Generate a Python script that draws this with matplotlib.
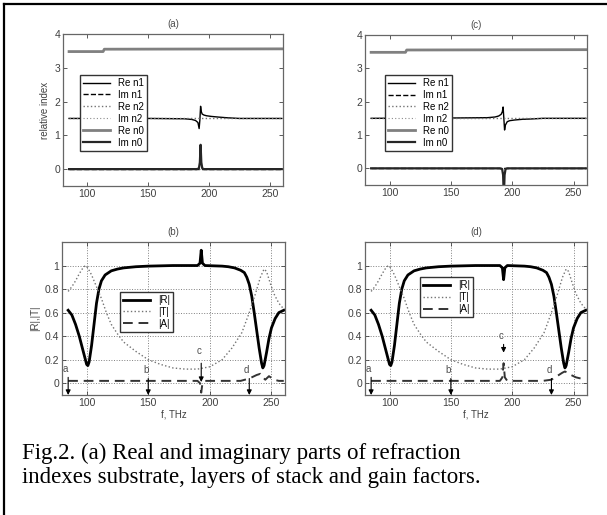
import matplotlib
matplotlib.use('Agg')
import matplotlib.pyplot as plt
from matplotlib.lines import Line2D

# ---- panel (a)/(c): refraction indexes ----
f_re0 = [85, 113, 114, 260]
re_n0 = [3.48, 3.48, 3.55, 3.56]

f_n1 = [85, 150, 180, 186, 189, 191, 192, 192.6, 193.2, 193.8, 194.5, 196, 198, 202, 208, 215, 225, 260]
re_n1_a = [1.5, 1.5, 1.49, 1.47, 1.44, 1.38, 1.2, 1.45, 1.86, 1.7, 1.63, 1.6, 1.58, 1.56, 1.54, 1.52, 1.5, 1.5]
re_n1_c = [1.5, 1.51, 1.52, 1.54, 1.57, 1.62, 1.7, 1.84, 1.5, 1.15, 1.3, 1.4, 1.43, 1.45, 1.47, 1.48, 1.5, 1.5]

f_flat = [85, 260]
re_n2 = [1.5, 1.5]
im_n1 = [0, 0]
im_n2 = [0, 0]

f_im0 = [85, 190, 191.8, 192.6, 193.2, 193.8, 194.6, 196, 260]
im_n0_a = [0, 0, 0.02, 0.2, 0.72, 0.2, 0.02, 0, 0]
im_n0_c = [0, 0, -0.02, -0.2, -0.9, -0.2, -0.02, 0, 0]

# ---- panel (b)/(d): |R|, |T|, |A| ----
f_R = [85, 88, 91, 94, 97, 99, 100, 101, 102, 104, 106, 108, 110, 112, 115, 120, 125, 130, 140, 150,
       170, 190, 192, 193, 194, 196, 210, 215, 220, 225, 228, 230, 232, 234, 236, 238, 240, 242, 243, 244,
       246, 248, 250, 253, 256, 260]
r_b = [0.62, 0.58, 0.5, 0.4, 0.28, 0.2, 0.16, 0.15, 0.18, 0.32, 0.5, 0.68, 0.8, 0.87, 0.92, 0.955, 0.97, 0.98, 0.99, 0.995,
       1.0, 1.0, 1.02, 1.13, 1.02, 1.0, 0.995, 0.99, 0.98, 0.96, 0.94, 0.9, 0.84, 0.74, 0.6, 0.45, 0.3, 0.17, 0.13, 0.15,
       0.26, 0.38, 0.47, 0.55, 0.6, 0.62]
r_d = [0.62, 0.58, 0.5, 0.4, 0.28, 0.2, 0.16, 0.15, 0.18, 0.32, 0.5, 0.68, 0.8, 0.87, 0.92, 0.955, 0.97, 0.98, 0.99, 0.995,
       1.0, 1.0, 0.98, 0.88, 0.98, 1.0, 0.995, 0.99, 0.98, 0.96, 0.94, 0.9, 0.84, 0.74, 0.6, 0.45, 0.3, 0.17, 0.13, 0.15,
       0.26, 0.38, 0.47, 0.55, 0.6, 0.62]

f_T = [85, 88, 91, 94, 97, 99, 101, 104, 108, 112, 116, 120, 125, 130, 140, 150, 160, 170, 180, 190, 200,
       210, 218, 226, 232, 237, 241, 244, 246, 249, 252, 256, 260]
t_bd = [0.78, 0.82, 0.87, 0.93, 0.98, 1.0, 0.98, 0.92, 0.82, 0.72, 0.6, 0.5, 0.42, 0.35, 0.27, 0.2, 0.16, 0.13, 0.12, 0.12, 0.14,
        0.2, 0.3, 0.43, 0.6, 0.76, 0.9, 0.97, 0.95, 0.85, 0.76, 0.68, 0.63]

f_A = [85, 190, 192, 193, 194, 196, 225, 232, 238, 241, 243, 245, 248, 252, 256, 260]
a_b = [0.02, 0.02, 0.0, -0.08, 0.0, 0.02, 0.02, 0.04, 0.07, 0.08, 0.05, 0.03, 0.06, 0.03, 0.02, 0.02]
a_d = [0.02, 0.02, 0.05, 0.17, 0.05, 0.02, 0.02, 0.03, 0.07, 0.09, 0.1, 0.09, 0.07, 0.05, 0.04, 0.03]

arrow_f = [85, 150, 193, 232]
arrow_lbl = ['a', 'b', 'c', 'd']
# arrow (start, end, label y) per panel
arrows_b = [(0.05, -0.1, 0.08), (0.04, -0.1, 0.07), (0.17, 0.01, 0.23), (0.04, -0.1, 0.07)]
arrows_d = [(0.05, -0.1, 0.08), (0.04, -0.1, 0.07), (0.33, 0.26, 0.36), (0.04, -0.1, 0.07)]

caption = ["Fig.2. (a) Real and imaginary parts of refraction",
           "indexes substrate, layers of stack and gain factors."]

plt.rcParams['font.family'] = ['Liberation Sans', 'DejaVu Sans']
W, H = 607, 515
fig = plt.figure(figsize=(W / 100, H / 100), dpi=100)


def px_axes(l, t, r, b):
    return fig.add_axes([l / W, 1 - b / H, (r - l) / W, (b - t) / H])


def style(ax, title):
    ax.set_xlim(80, 261)
    ax.set_xticks([100, 150, 200, 250])
    ax.tick_params(direction='in', length=3, width=0.6, labelsize=7.5, colors='0.25', pad=2,
                   top=True, right=True)
    for s in ax.spines.values():
        s.set_color('0.4')
        s.set_linewidth(0.9)
    ax.set_title(title, fontsize=7, color='0.3', pad=5)


leg_kw = dict(fontsize=7, frameon=True, fancybox=False, edgecolor='0.2', framealpha=1,
              borderpad=0.3, labelspacing=0.2, handlelength=2.8, handletextpad=0.8, borderaxespad=0)

# (a) and (c)
for (l, t, r, b), title, re1, im0, ylab, lpos in [
        ((63, 34, 283, 186), '(a)', re_n1_a, im_n0_a, 'relative index', (0.077, 0.73)),
        ((365, 35, 587, 185), '(c)', re_n1_c, im_n0_c, None, (0.09, 0.733))]:
    ax = px_axes(l, t, r, b)
    ax.plot(f_n1, re1, color='black', lw=1.0, label='Re n1')
    ax.plot(f_flat, im_n1, color='black', lw=1.0, ls='--', label='Im n1')
    ax.plot(f_flat, re_n2, color='0.45', lw=1.0, ls=':', label='Re n2')
    ax.plot(f_flat, im_n2, color='0.55', lw=0.8, ls=(0, (1, 2)), label='Im n2')
    ax.plot(f_re0, re_n0, color='0.5', lw=2.0, label='Re n0')
    ax.plot(f_im0, im0, color='0.15', lw=1.6, label='Im n0')
    ax.set_ylim(-0.5, 4)
    ax.set_yticks([0, 1, 2, 3, 4])
    style(ax, title)
    if ylab:
        ax.set_ylabel(ylab, fontsize=7, color='0.25', labelpad=3)
    ax.legend(loc='upper left', bbox_to_anchor=lpos, **leg_kw)

# (b) and (d)
for (l, t, r, b), title, rr, aa, arrs, ylab, lpos in [
        ((62, 242, 285, 395), '(b)', r_b, a_b, arrows_b, '|R|,|T|', (0.26, 0.673)),
        ((365, 242, 587, 395), '(d)', r_d, a_d, arrows_d, None, (0.248, 0.77))]:
    ax = px_axes(l, t, r, b)
    ax.grid(True, color='0.5', ls=':', lw=0.7)
    ax.plot(f_R, rr, color='black', lw=2.0, label='|R|')
    ax.plot(f_T, t_bd, color='0.45', lw=1.0, ls=':', label='|T|')
    ax.plot(f_A, aa, color='0.2', lw=1.4, ls=(0, (5, 3)), label='|A|')
    ax.set_ylim(-0.1, 1.2)
    ax.set_yticks([0, 0.2, 0.4, 0.6, 0.8, 1])
    ax.set_yticklabels(['0', '0.2', '0.4', '0.6', '0.8', '1'])
    style(ax, title)
    ax.set_xlabel('f, THz', fontsize=7, color='0.25', labelpad=1)
    if ylab:
        ax.set_ylabel(ylab, fontsize=7, color='0.25', labelpad=3)
    for fx, lbl, (y0, y1, ly) in zip(arrow_f, arrow_lbl, arrs):
        ax.annotate('', xy=(fx, y1), xytext=(fx, y0),
                    arrowprops=dict(arrowstyle='-|>', color='black', lw=0.8, mutation_scale=7,
                                    shrinkA=0, shrinkB=0))
        ax.text(fx - 2, ly, lbl, fontsize=7, color='0.3', ha='center', va='bottom')
    ax.legend(loc='upper left', bbox_to_anchor=lpos, **leg_kw)

# page frame (top and left edges)
fig.add_artist(Line2D([4 / W, 1], [1 - 4 / H, 1 - 4 / H], color='black', lw=1.6))
fig.add_artist(Line2D([4 / W, 4 / W], [0, 1 - 4 / H], color='black', lw=1.6))

for i, line in enumerate(caption):
    fig.text(22 / W, 1 - (459 + 24 * i) / H, line, fontsize=16.5, family='Liberation Serif',
             va='baseline', ha='left', color='black')

fig.savefig('out.png', dpi=100)
